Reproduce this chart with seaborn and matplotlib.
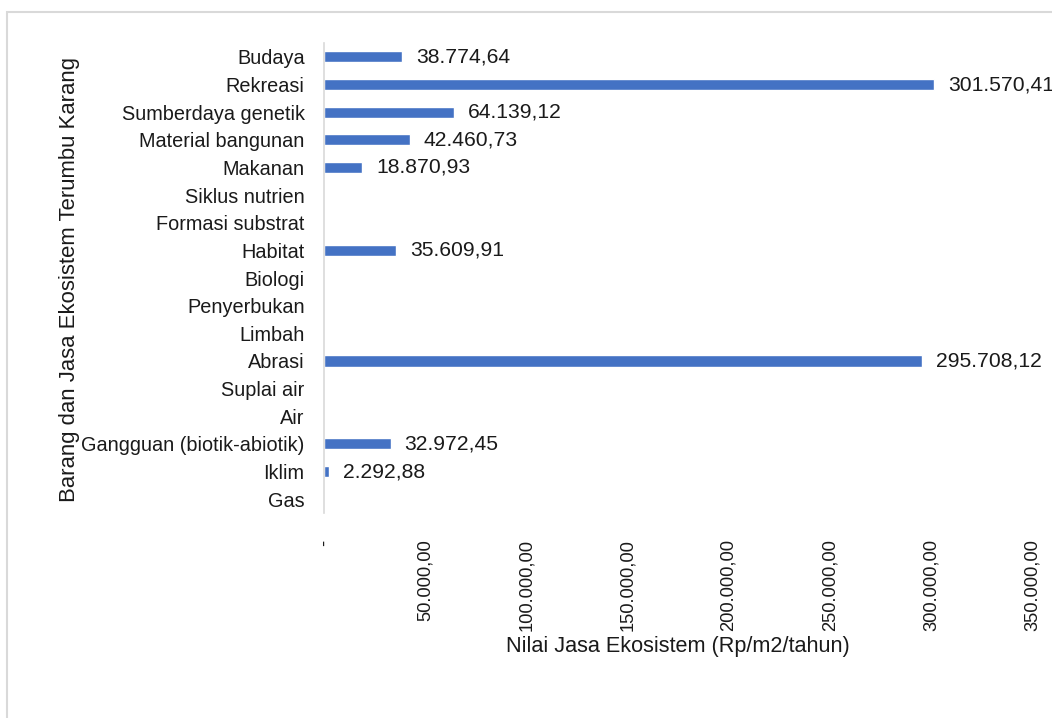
import matplotlib
matplotlib.use("Agg")
import matplotlib.pyplot as plt
import matplotlib.ticker as mticker
from matplotlib.patches import Rectangle
import pandas as pd
import seaborn as sns

categories = [
    "Budaya", "Rekreasi", "Sumberdaya genetik", "Material bangunan", "Makanan",
    "Siklus nutrien", "Formasi substrat", "Habitat", "Biologi", "Penyerbukan",
    "Limbah", "Abrasi", "Suplai air", "Air", "Gangguan (biotik-abiotik)",
    "Iklim", "Gas",
]
values = [
    38774.64, 301570.41, 64139.12, 42460.73, 18870.93,
    0, 0, 35609.91, 0, 0,
    0, 295708.12, 0, 0, 32972.45,
    2292.88, 0,
]
x_ticks = [0, 50000, 100000, 150000, 200000, 250000, 300000, 350000]


def idr(v, dec=2):
    # Indonesian style: dot thousands, comma decimals
    s = f"{v:,.{dec}f}"
    return s.replace(",", "X").replace(".", ",").replace("X", ".")


def main() -> None:
    sns.set_theme(style="white")
    plt.rcParams["font.family"] = ["Liberation Sans", "DejaVu Sans"]
    ink = "#1a1a1a"

    df = pd.DataFrame({"kategori": categories, "nilai": values})

    fig = plt.figure(figsize=(10.52, 7.18), dpi=100)
    ax = fig.add_axes([0.308, 0.2855, 0.673, 0.6545])

    sns.barplot(data=df, x="nilai", y="kategori", color="#4472C4", width=0.4,
                saturation=1, ax=ax)

    labels = [idr(v) if v > 0 else "" for v in values]
    ax.bar_label(ax.containers[0], labels=labels, padding=10, fontsize=15.2,
                 color=ink)

    ax.set_xlim(0, 350000)
    ax.set_xticks(x_ticks)
    ax.xaxis.set_major_formatter(
        mticker.FuncFormatter(lambda v, p: "-" if v == 0 else idr(v)))
    ax.tick_params(axis="x", labelrotation=90, labelsize=13.2, length=0, pad=19,
                   labelcolor=ink)
    ax.tick_params(axis="y", labelsize=14.3, length=0, pad=14, labelcolor=ink)

    for side in ("top", "right", "bottom"):
        ax.spines[side].set_visible(False)
    ax.spines["left"].set_color("#d9d9d9")
    ax.spines["left"].set_linewidth(1.2)

    ax.set_xlabel("Nilai Jasa Ekosistem (Rp/m2/tahun)", fontsize=15.6, color=ink)
    ax.set_ylabel("Barang dan Jasa Ekosistem Terumbu Karang", fontsize=15.9,
                  color=ink)
    ax.xaxis.set_label_coords(0.5, -0.262)
    ax.yaxis.set_label_coords(-0.345, 0.496)

    # chart area border (cut off on the right and bottom)
    fig.patches.append(Rectangle((7 / 1052, -0.05), 1.2, 1.05 - 12 / 718,
                                 transform=fig.transFigure, fill=False,
                                 edgecolor="#d9d9d9", linewidth=1.5))

    fig.savefig("out.png", dpi=100)
    plt.close(fig)


if __name__ == "__main__":
    main()
